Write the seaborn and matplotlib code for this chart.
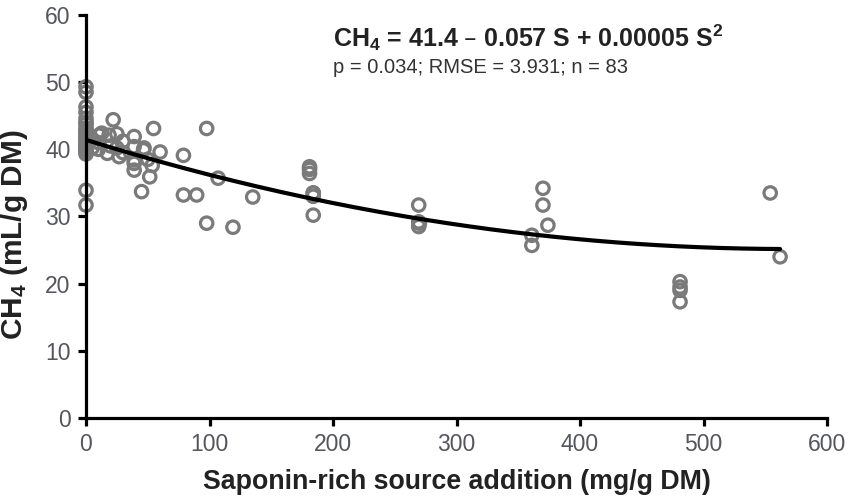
import numpy as np
import pandas as pd
import matplotlib
matplotlib.use("Agg")
import matplotlib.pyplot as plt
import seaborn as sns

# saponin addition (mg/g DM) and CH4 (mL/g DM)
saponin = [0] * 25 + [5, 5, 10, 10, 10.6, 12.7, 17.3, 18.7, 20, 22, 25, 25,
           26.8, 30, 30, 39, 39, 39, 39, 39, 45, 46.6, 47, 50, 51.6, 53.6,
           54.7, 60, 78.9, 78.9, 89.6, 97.7, 97.7, 107, 119, 135,
           181, 181, 181, 184, 184, 184, 184, 269.4, 269.4, 269.4, 270,
           361, 361, 370, 370, 374, 481, 481, 481, 481, 554, 562]
ch4 = [49.3, 48.5, 46.3, 45.5, 44.6, 43.2, 42.4, 41.4, 41.0, 40.5, 39.9,
       39.6, 40.2, 42.0, 43.8, 33.9, 31.7, 41.8, 40.8, 42.8, 44.0, 39.3,
       40.0, 41.2, 42.6,
       40.2, 41.5, 41.0, 40.0, 42.1, 42.4, 39.4, 42.1, 40.5, 44.4, 40.2, 42.3,
       38.9, 39.5, 41.2, 41.9, 40.4, 38.4, 37.9, 36.9, 33.7, 39.9, 40.2, 38.5,
       35.9, 37.6, 43.1, 39.6, 39.1, 33.2, 33.2, 43.1, 29.0, 35.7, 28.4, 32.9,
       37.4, 36.4, 37.0, 33.5, 33.5, 30.2, 33.0, 31.7, 29.2, 28.5, 29.0,
       27.2, 25.7, 34.2, 31.7, 28.7, 20.3, 19.0, 17.3, 19.5, 33.5, 24.0]

# fitted quadratic reported in the figure
b0, b1, b2 = 41.4, -0.057, 0.00005
fit_start, fit_end = 0, 562

df = pd.DataFrame({"S": saponin, "CH4": ch4})
s_fit = np.linspace(fit_start, fit_end, 200)
fit = pd.DataFrame({"S": s_fit, "CH4": b0 + b1 * s_fit + b2 * s_fit ** 2})

sns.set_theme(style="ticks")
plt.rcParams["font.family"] = ["Liberation Sans", "DejaVu Sans"]
plt.rcParams["mathtext.default"] = "regular"

fig = plt.figure(figsize=(8.54, 4.98), dpi=100)
ax = fig.add_axes([0.1007, 0.1606, 0.8677, 0.8094])

sns.scatterplot(data=df, x="S", y="CH4", ax=ax, s=80, facecolor="none",
                edgecolor="#7a7a7a", linewidth=2.3, zorder=2, clip_on=False)
sns.lineplot(data=fit, x="S", y="CH4", ax=ax, color="black", linewidth=3,
             zorder=3)

ax.set_xlim(0, 600)
ax.set_ylim(0, 60)
ax.set_xticks(range(0, 601, 100))
ax.set_yticks(range(0, 61, 10))
sns.despine(ax=ax)
for sp in ["left", "bottom"]:
    ax.spines[sp].set_linewidth(2.3)
    ax.spines[sp].set_color("black")
ax.tick_params(width=2.3, length=6, color="black", labelsize=16.5,
               labelcolor="#555560", pad=5)

ax.set_xlabel("Saponin-rich source addition (mg/g DM)", fontsize=19.3,
              fontweight="bold", color="#222222", labelpad=9)
ax.set_ylabel("CH$_4$ (mL/g DM)", fontsize=21.5, fontweight="bold",
              color="#222222", labelpad=2)
ax.yaxis.set_label_coords(-0.075, 0.455)

ax.text(0.333, 0.92, "CH$_4$ = 41.4 \u2013 0.057 S + 0.00005 S$^2$",
        transform=ax.transAxes, fontsize=18, fontweight="bold",
        color="#222222")
ax.text(0.333, 0.855, "p = 0.034; RMSE = 3.931; n = 83",
        transform=ax.transAxes, fontsize=14.5, color="#333333")

fig.savefig("out.png", dpi=100)
